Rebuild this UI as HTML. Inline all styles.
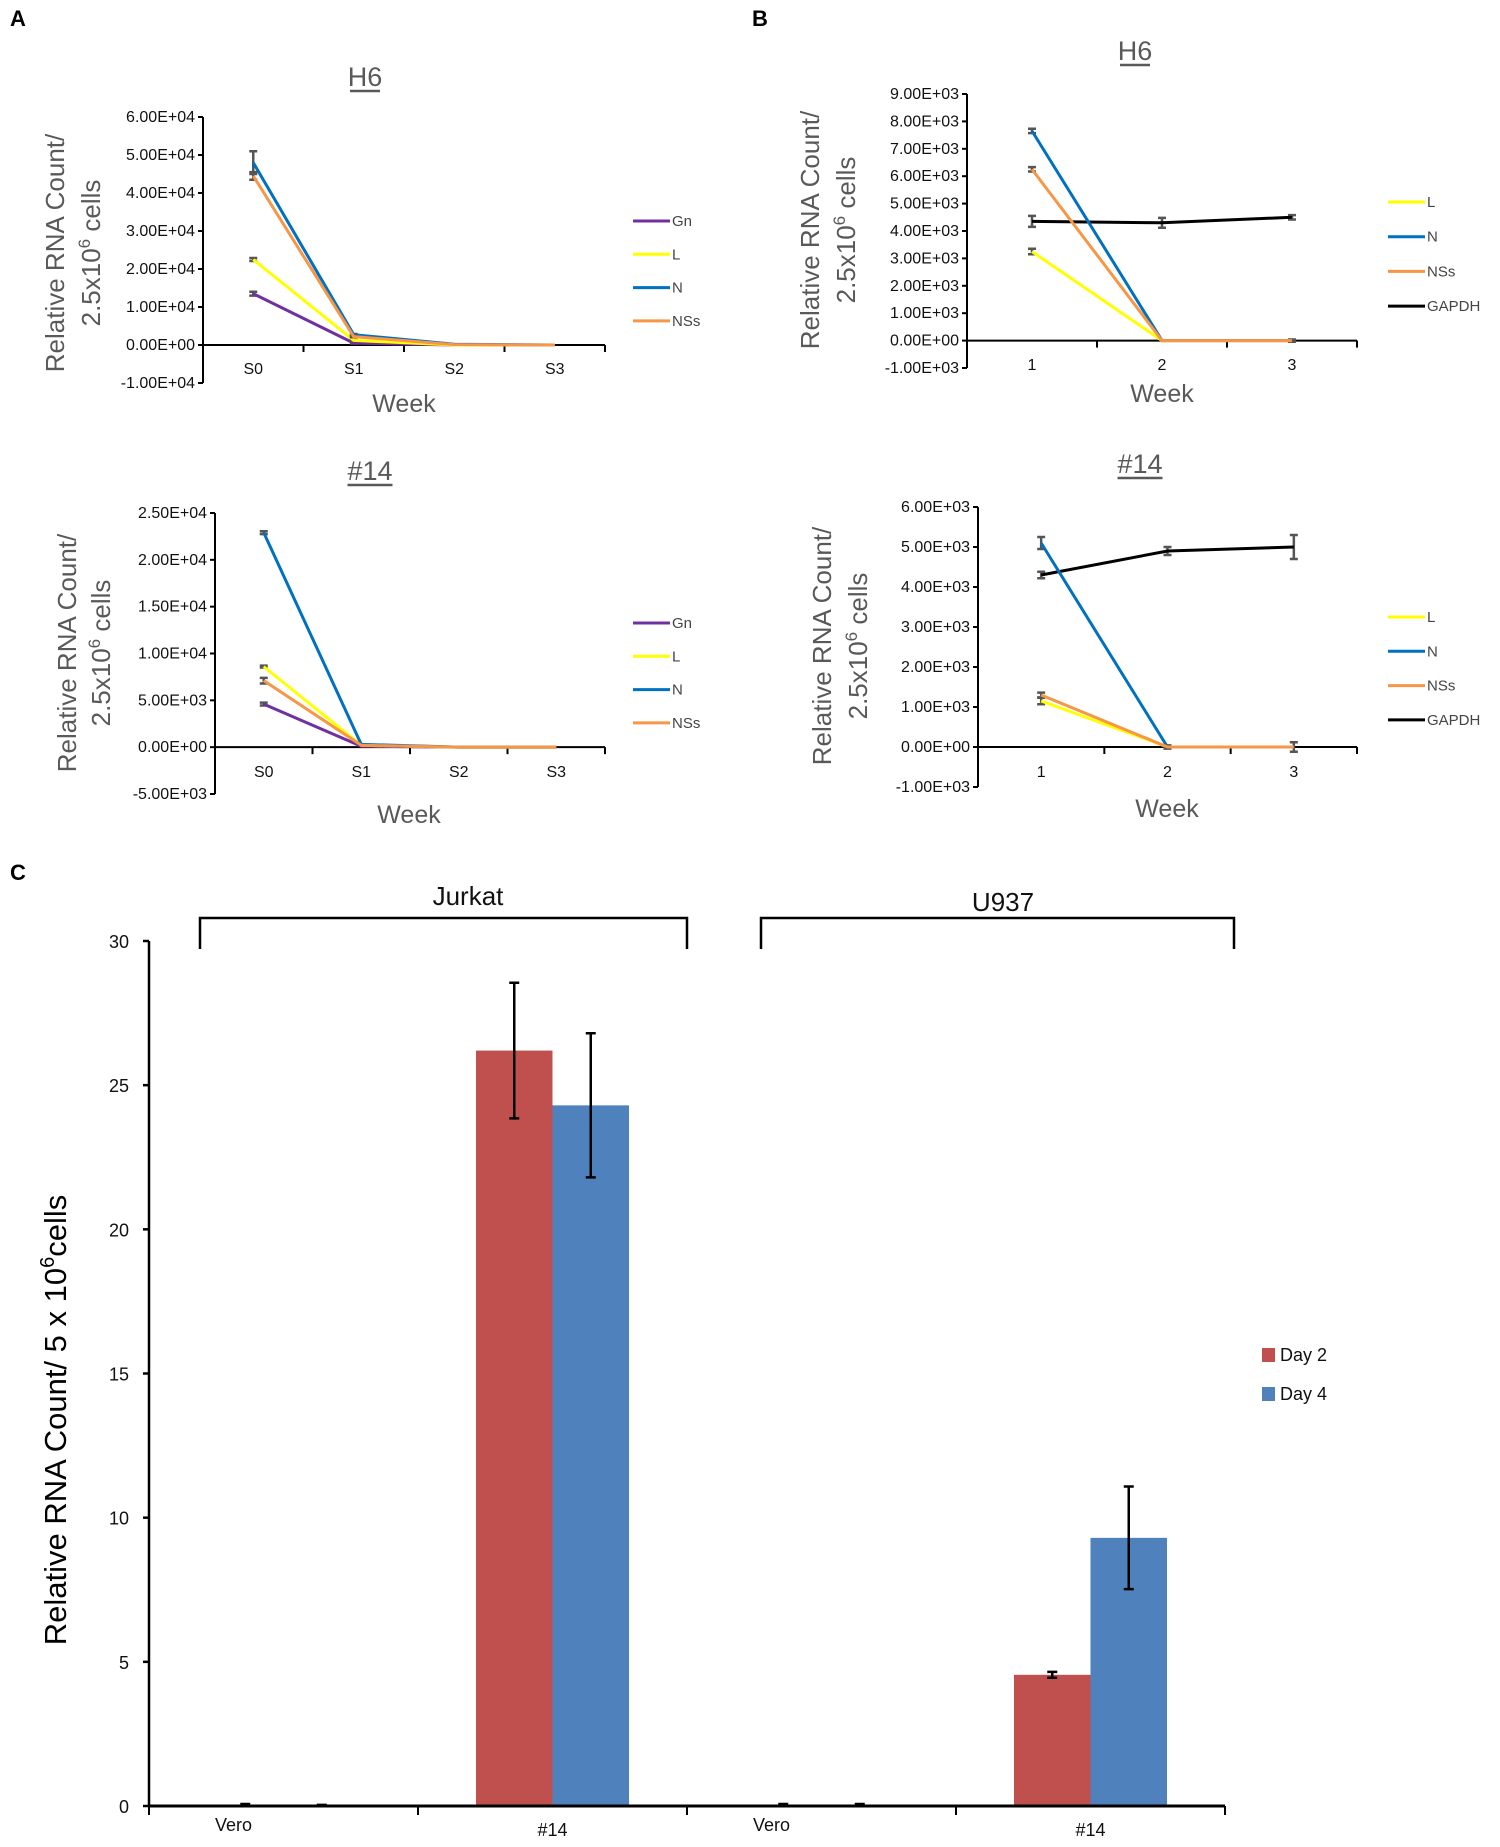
<!DOCTYPE html>
<html><head><meta charset="utf-8"><style>
body{margin:0;background:#fff;}
svg{display:block;font-family:"Liberation Sans",sans-serif;}
</style></head><body>
<svg id="fig" width="1500" height="1847" viewBox="0 0 1500 1847" xmlns="http://www.w3.org/2000/svg">
<text x="10" y="26" font-size="22" font-weight="bold">A</text>
<text x="752" y="26" font-size="22" font-weight="bold">B</text>
<text x="10" y="880" font-size="22" font-weight="bold">C</text>
<g id="gA1"></g>
<g id="gA2"></g>
<g id="gB1"></g>
<g id="gB2"></g>
<g id="gC"></g>
</svg>
<script>
// ---- Panel A H6 data ----
const aCats = ["S0","S1","S2","S3"];
const aH6Ticks = [60000,50000,40000,30000,20000,10000,0,-10000];
const aH6TickLabels = ["6.00E+04","5.00E+04","4.00E+04","3.00E+04","2.00E+04","1.00E+04","0.00E+00","-1.00E+04"];
const aH6Gn = [13500,500,0,0];
const aH6L = [22500,1200,0,0];
const aH6N = [48000,2700,200,0];
const aH6NSs = [44500,2200,100,0];
const aH6GnErr = [500,100,0,0];
const aH6LErr = [400,100,0,0];
const aH6NErr = [3000,200,0,0];
const aH6NSsErr = [1000,150,0,0];
// ---- Panel A #14 data ----
const a14Ticks = [25000,20000,15000,10000,5000,0,-5000];
const a14TickLabels = ["2.50E+04","2.00E+04","1.50E+04","1.00E+04","5.00E+03","0.00E+00","-5.00E+03"];
const a14Gn = [4600,100,0,0];
const a14L = [8600,200,0,0];
const a14N = [22900,300,0,0];
const a14NSs = [7100,200,0,0];
const a14GnErr = [150,0,0,0];
const a14LErr = [100,0,0,0];
const a14NErr = [150,0,0,0];
const a14NSsErr = [300,0,0,0];
// ---- Panel B H6 data ----
const bCats = ["1","2","3"];
const bH6Ticks = [9000,8000,7000,6000,5000,4000,3000,2000,1000,0,-1000];
const bH6TickLabels = ["9.00E+03","8.00E+03","7.00E+03","6.00E+03","5.00E+03","4.00E+03","3.00E+03","2.00E+03","1.00E+03","0.00E+00","-1.00E+03"];
const bH6L = [3250,0,0];
const bH6N = [7650,0,0];
const bH6NSs = [6250,0,0];
const bH6GAPDH = [4350,4300,4500];
const bH6LErr = [100,0,0];
const bH6NErr = [80,0,0];
const bH6NSsErr = [80,0,40];
const bH6GAPDHErr = [200,180,80];
// ---- Panel B #14 data ----
const b14Ticks = [6000,5000,4000,3000,2000,1000,0,-1000];
const b14TickLabels = ["6.00E+03","5.00E+03","4.00E+03","3.00E+03","2.00E+03","1.00E+03","0.00E+00","-1.00E+03"];
const b14L = [1150,0,0];
const b14N = [5100,0,0];
const b14NSs = [1300,0,0];
const b14GAPDH = [4300,4900,5000];
const b14LErr = [80,0,0];
const b14NErr = [150,0,0];
const b14NSsErr = [60,40,120];
const b14GAPDHErr = [80,100,300];
// ---- Panel C data ----
const cCats = ["Vero","#14","Vero","#14"];
const cDay2 = [0.05,26.2,0.05,4.55];
const cDay4 = [0.02,24.3,0.05,9.3];
const cDay2Err = [0.02,2.35,0.02,0.1];
const cDay4Err = [0.02,2.5,0.02,1.78];
const cTicks = [0,5,10,15,20,25,30];

const NS="http://www.w3.org/2000/svg";
function mk(parent,tag,attrs,text){const e=document.createElementNS(NS,tag);for(const k in attrs)e.setAttribute(k,attrs[k]);if(text!==undefined)e.textContent=text;parent.appendChild(e);return e;}
const COL={Gn:"#7030a0",L:"#ffff00",N:"#0070c0",NSs:"#f79646",GAPDH:"#000000"};

function lineChart(g,L,cats,ticks,tickLabels,series,title){
  const ys=v=>L.yTop+(L.yMax-v)/(L.yMax-L.yMin)*(L.yBot-L.yTop);
  const band=(L.x1-L.x0)/cats.length;
  const xs=i=>L.x0+(i+0.5)*band;
  const y0=ys(0);
  const t=mk(g,"text",{x:L.tx,y:L.ty,"font-size":27,"text-anchor":"middle",fill:"#595959"},title);
  
  
  const tw=title.length*15;
  const ul=mk(g,"line",{x1:L.tx-tw/2,x2:L.tx+tw/2,y1:L.ty+5,y2:L.ty+5,stroke:"#595959","stroke-width":2.5});
  
  
  const ya=mk(g,"line",{x1:L.x0,x2:L.x0,y1:L.yTop,y2:L.yBot,stroke:"#000","stroke-width":2});
  
  
  ticks.forEach((v,i)=>{
    mk(g,"line",{x1:L.x0-5,x2:L.x0,y1:ys(v),y2:ys(v),stroke:"#000","stroke-width":2});
    const tl=mk(g,"text",{x:L.x0-8,y:ys(v)+5,"font-size":16,"text-anchor":"end",fill:"#111"},tickLabels[i]);
    
    
  });
  const xa=mk(g,"line",{x1:L.x0,x2:L.x1,y1:y0,y2:y0,stroke:"#000","stroke-width":2});
  
  
  for(let i=1;i<=cats.length;i++)mk(g,"line",{x1:L.x0+i*band,x2:L.x0+i*band,y1:y0,y2:y0+7,stroke:"#000","stroke-width":2});
  cats.forEach((c,i)=>{
    const xl=mk(g,"text",{x:xs(i),y:L.xly,"font-size":16,"text-anchor":"middle",fill:"#111"},c);
    
    
  });
  const wk=mk(g,"text",{x:L.wx,y:L.wy,"font-size":25,"text-anchor":"middle",fill:"#595959"},"Week");
  
  
  const yt=mk(g,"text",{transform:`translate(${L.ytx1},${L.ytc}) rotate(-90)`,"font-size":26,"text-anchor":"middle",fill:"#595959"},"Relative RNA Count/");
  
  
  const yt2=mk(g,"text",{transform:`translate(${L.ytx2},${L.ytc}) rotate(-90)`,"font-size":26,"text-anchor":"middle",fill:"#595959"});
  
  
  mk(yt2,"tspan",{},"2.5x10");mk(yt2,"tspan",{dy:-10,"font-size":17},"6");mk(yt2,"tspan",{dy:10}," cells");
  series.forEach(s=>{
    const pts=s.v.map((v,i)=>xs(i)+","+ys(v)).join(" ");
    s.v.forEach((v,i)=>{if(s.e[i]>0){const x=xs(i);
      const eb=mk(g,"path",{d:`M${x},${ys(v+s.e[i])}V${ys(v-s.e[i])}M${x-4},${ys(v+s.e[i])}H${x+4}M${x-4},${ys(v-s.e[i])}H${x+4}`,stroke:"#555","stroke-width":2.5,fill:"none"});
      
      }});
    const pl=mk(g,"polyline",{points:pts,fill:"none",stroke:COL[s.n],"stroke-width":3});
    
    
  });
  L.leg.forEach((n,i)=>{
    const y=L.ly0+i*L.ldy;
    const ll=mk(g,"line",{x1:L.lx,x2:L.lx+37,y1:y,y2:y,stroke:COL[n],"stroke-width":3});
    
    
    const lt=mk(g,"text",{x:L.lx+39,y:y+5,"font-size":15,fill:"#444"},n);
    
    
  });
}

lineChart(document.getElementById("gA1"),
 {x0:203,x1:605,yTop:117,yBot:383,yMax:60000,yMin:-10000,tx:365,ty:86,xly:374,wx:404,wy:412,ytx1:64,ytx2:100,ytc:253,lx:633,ly0:221,ldy:33.3,leg:["Gn","L","N","NSs"]},
 aCats,aH6Ticks,aH6TickLabels,
 [{n:"Gn",v:aH6Gn,e:aH6GnErr},{n:"L",v:aH6L,e:aH6LErr},{n:"N",v:aH6N,e:aH6NErr},{n:"NSs",v:aH6NSs,e:aH6NSsErr}],"H6");
lineChart(document.getElementById("gA2"),
 {x0:215,x1:605,yTop:513,yBot:794,yMax:25000,yMin:-5000,tx:370,ty:480,xly:777,wx:409,wy:823,ytx1:76,ytx2:110,ytc:653,lx:633,ly0:623,ldy:33.3,leg:["Gn","L","N","NSs"]},
 aCats,a14Ticks,a14TickLabels,
 [{n:"Gn",v:a14Gn,e:a14GnErr},{n:"L",v:a14L,e:a14LErr},{n:"N",v:a14N,e:a14NErr},{n:"NSs",v:a14NSs,e:a14NSsErr}],"#14");
lineChart(document.getElementById("gB1"),
 {x0:967,x1:1357,yTop:94,yBot:368,yMax:9000,yMin:-1000,tx:1135,ty:60,xly:370,wx:1162,wy:402,ytx1:819,ytx2:855,ytc:230,lx:1388,ly0:202,ldy:34.7,leg:["L","N","NSs","GAPDH"]},
 bCats,bH6Ticks,bH6TickLabels,
 [{n:"GAPDH",v:bH6GAPDH,e:bH6GAPDHErr},{n:"L",v:bH6L,e:bH6LErr},{n:"N",v:bH6N,e:bH6NErr},{n:"NSs",v:bH6NSs,e:bH6NSsErr}],"H6");
lineChart(document.getElementById("gB2"),
 {x0:978,x1:1357,yTop:507,yBot:787,yMax:6000,yMin:-1000,tx:1140,ty:473,xly:777,wx:1167,wy:817,ytx1:831,ytx2:867,ytc:646,lx:1388,ly0:617,ldy:34.3,leg:["L","N","NSs","GAPDH"]},
 bCats,b14Ticks,b14TickLabels,
 [{n:"GAPDH",v:b14GAPDH,e:b14GAPDHErr},{n:"L",v:b14L,e:b14LErr},{n:"N",v:b14N,e:b14NErr},{n:"NSs",v:b14NSs,e:b14NSsErr}],"#14");

(function(){
  const g=document.getElementById("gC");
  const x0=149,x1=1225,yZero=1806,yTop=941,max=30;
  const ys=v=>yZero-(v/max)*(yZero-yTop);
  const band=(x1-x0)/cCats.length, bw=76.5;
  const ya=mk(g,"line",{x1:x0,x2:x0,y1:yTop,y2:yZero,stroke:"#000","stroke-width":2.5});
  
  
  cTicks.forEach(v=>{
    mk(g,"line",{x1:x0-6,x2:x0,y1:ys(v),y2:ys(v),stroke:"#000","stroke-width":2.5});
    const t=mk(g,"text",{x:x0-20,y:ys(v)+7,"font-size":18,"text-anchor":"end",fill:"#111"},String(v));
    
    
  });
  cCats.forEach((c,i)=>{
    const cx=x0+(i+0.5)*band;
    [[cDay2,cDay2Err,"#c0504d",-1,"day2"],[cDay4,cDay4Err,"#4f81bd",0,"day4"]].forEach(([vals,errs,col,off,nm])=>{
      const v=vals[i],bx=cx+off*bw;
      const r=mk(g,"rect",{x:bx,y:ys(v),width:bw,height:yZero-ys(v),fill:col});
      
      
      const ex=bx+bw/2,e=errs[i];
      const eb=mk(g,"path",{d:`M${ex},${ys(v+e)}V${ys(v-e)}M${ex-5},${ys(v+e)}H${ex+5}M${ex-5},${ys(v-e)}H${ex+5}`,stroke:"#000","stroke-width":2.5,fill:"none"});
      
      
    });
    const xl=mk(g,"text",{x:cx-(c==="Vero"?50:0),y:c==="Vero"?1831:1836,"font-size":18,"text-anchor":"middle",fill:"#111"},c);
    
    
  });
  const xa=mk(g,"line",{x1:x0,x2:x1,y1:yZero,y2:yZero,stroke:"#000","stroke-width":3});
  
  
  for(let i=0;i<=cCats.length;i++)mk(g,"line",{x1:x0+i*band,x2:x0+i*band,y1:yZero,y2:yZero+9,stroke:"#000","stroke-width":2});
  const yt=mk(g,"text",{transform:"translate(66,1420) rotate(-90)","font-size":31,"text-anchor":"middle",fill:"#000"});
  
  
  mk(yt,"tspan",{},"Relative RNA Count/ 5 x 10");mk(yt,"tspan",{dy:-12,"font-size":20},"6");mk(yt,"tspan",{dy:12},"cells");
  [[200,687,"Jurkat",468,905,"jurkat"],[761,1234,"U937",1003,911,"u937"]].forEach(([a,b,lab,lx,ly,nm])=>{
    const p=mk(g,"path",{d:`M${a},949V918H${b}V949`,stroke:"#000","stroke-width":2.5,fill:"none"});
    
    
    const t=mk(g,"text",{x:lx,y:ly,"font-size":26,"text-anchor":"middle",fill:"#111"},lab);
    
    
  });
  [["Day 2","#c0504d",1348],["Day 4","#4f81bd",1387]].forEach(([lab,col,y])=>{
    const r=mk(g,"rect",{x:1262,y:y,width:13,height:14,fill:col});
    
    
    const t=mk(g,"text",{x:1280,y:y+13,"font-size":18,fill:"#111"},lab);
    
    
  });
})();
</script>
</body></html>
